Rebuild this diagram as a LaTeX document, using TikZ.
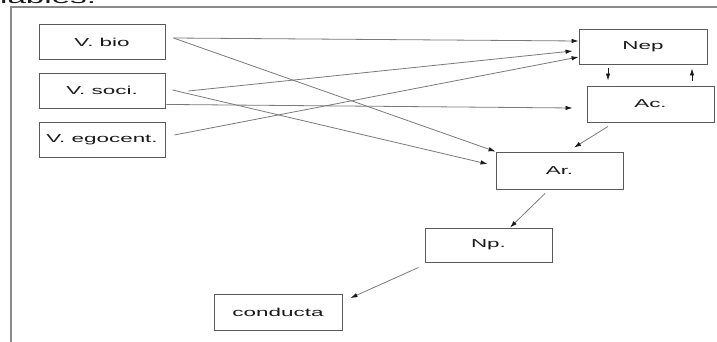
\documentclass[tikz,border=0pt]{standalone}
\usepackage{fontspec}
\newfontfamily\boxfont[FakeStretch=1.95]{Liberation Sans}
\usepackage{xcolor}
\usetikzlibrary{arrows.meta,calc}
\definecolor{ink}{HTML}{1A1A1A}
\definecolor{edge}{HTML}{5A5A5A}
\definecolor{wire}{HTML}{7A7A7A}
\definecolor{frame}{HTML}{8A8A8A}
\tikzset{
  every node/.style={font=\boxfont\fontsize{11.5}{13}\selectfont,text=ink},
  var/.style={draw=edge,line width=0.9pt,fill=white,minimum width=126pt,minimum height=35pt,inner sep=0pt},
  conn/.style={-{Latex[length=7pt,width=4.5pt,color=ink]},draw=wire,line width=0.8pt},
  tick/.style={conn,draw=ink},
  border/.style={draw=frame,line width=1.4pt}
}
\begin{document}
\begin{tikzpicture}[x=1pt,y=-1pt]
  \useasboundingbox (0,0) rectangle (717,342);
  \node[anchor=base west,inner sep=0pt,font=\boxfont\fontsize{17}{19}\selectfont] (title) at (0,4) {iables.};
  \draw[border] (11,342) -- (11,7) -- (717,7);

  \node[var] (vbio) at (102,42) {V. bio};
  \node[var] (vsoci) at (102,90.5) {V. soci.};
  \node[var] (vego) at (102,139.5) {V. egocent.};
  \node[var,minimum width=128pt] (nep) at (643,46.5) {Nep};
  \node[var,minimum width=127pt,minimum height=36pt] (ac) at (650.5,104) {Ac.};
  \node[var,minimum width=127pt,minimum height=37pt] (ar) at (559.5,170.5) {Ar.};
  \node[var,minimum width=127pt,minimum height=34pt] (np) at (488.5,245) {Np.};
  \node[var,minimum width=128pt,minimum height=36pt] (cond) at (278,312) {conducta};

  \draw[conn] ($(vbio.east)+(8,-4)$) -- ($(nep.west)+(0,-5.5)$);
  \draw[conn] ($(vbio.east)+(8,-4)$) -- (ar.north west);
  \draw[conn] ($(vsoci.east)+(23,0.5)$) -- ($(nep.west)+(-6,4.5)$);
  \draw[conn] ($(vsoci.south east)+(1,-4)$) -- ($(ac.west)+(-14,4)$);
  \draw[conn] ($(vsoci.east)+(7,-0.5)$) -- ($(ar.west)+(-8,-6.5)$);
  \draw[conn] ($(vego.east)+(9,-4.5)$) -- ($(nep.west)+(0,10.5)$);
  \draw[tick] ($(nep.south)+(-35,4)$) -- ($(ac.north)+(-42.5,-5)$);
  \draw[tick] ($(ac.north)+(41.5,-5)$) -- ($(nep.south)+(49,4)$);
  \draw[conn] ($(ac.south)+(-42.5,4)$) -- ($(ar.north)+(14.5,-4)$);
  \draw[conn] ($(ar.south)+(-14.5,4)$) -- ($(np.north)+(21.5,0)$);
  \draw[conn] ($(np.south west)+(-6,5)$) -- ($(cond.east)+(8,-14)$);
\end{tikzpicture}
\end{document}
